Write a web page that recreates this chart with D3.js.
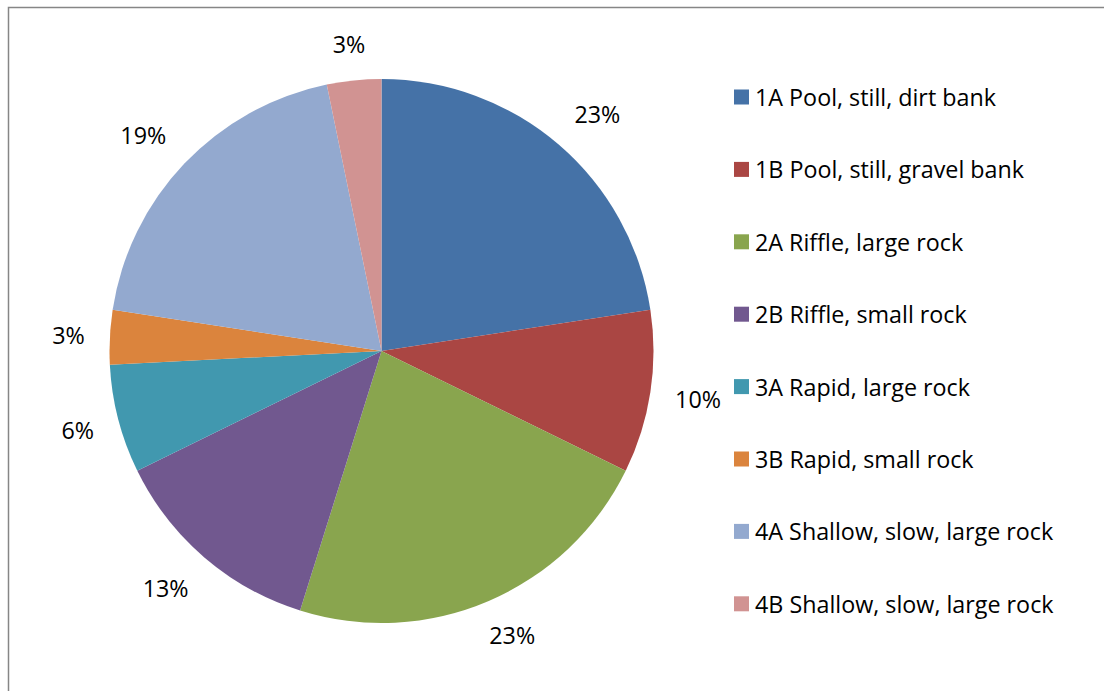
<!DOCTYPE html>
<html>
<head>
<meta charset="utf-8">
<script src="https://cdn.jsdelivr.net/npm/d3@7"></script>
<style>
  html, body { margin: 0; padding: 0; background: #fff; }
  svg { display: block; }
</style>
</head>
<body>
<svg id="chart" width="1104" height="691"></svg>
<script>
const categories = [
  "1A Pool, still, dirt bank",
  "1B Pool, still, gravel bank",
  "2A Riffle, large rock",
  "2B Riffle, small rock",
  "3A Rapid, large rock",
  "3B Rapid, small rock",
  "4A Shallow, slow, large rock",
  "4B Shallow, slow, large rock"
];
const values = [7, 3, 7, 4, 2, 1, 6, 1];
const colors = ["#4572A7", "#AA4643", "#89A54E", "#71588F", "#4198AF", "#DB843D", "#93A9CF", "#D19392"];

const svg = d3.select("#chart");
const W = 1104, H = 691;
const fontFamily = "'Open Sans', Lato, sans-serif";
const fontSize = 23.3;

// chart area border
svg.append("rect")
  .attr("x", 8.5).attr("y", 7.5)
  .attr("width", W + 20).attr("height", H + 20)
  .attr("fill", "#fff")
  .attr("stroke", "#868686")
  .attr("stroke-width", 1.5);

const cx = 381.5, cy = 351, r = 272, labelGap = 297;
const total = d3.sum(values);
const data = categories.map((c, i) => ({ cat: c, value: values[i], color: colors[i] }));

const pie = d3.pie().sort(null).value(d => d.value);
const arcs = pie(data);
const arc = d3.arc().innerRadius(0).outerRadius(r);

const g = svg.append("g").attr("transform", `translate(${cx},${cy})`);
g.selectAll("path.slice")
  .data(arcs)
  .join("path")
  .attr("class", "slice")
  .attr("d", arc)
  .attr("fill", d => d.data.color);

const fmt = d3.format(".0%");
const labels = g.selectAll("text.pct")
  .data(arcs)
  .join("text")
  .attr("class", "pct")
  .attr("text-anchor", "middle")
  .attr("dominant-baseline", "central")
  .attr("font-family", fontFamily)
  .attr("font-size", fontSize)
  .attr("fill", "#000")
  .text(d => fmt(d.data.value / total));

// place each label box just outside the pie edge (outside end)
const clamp = v => Math.max(-1, Math.min(1, v));
labels.each(function(d) {
  const bb = this.getBBox();
  const a = (d.startAngle + d.endAngle) / 2;
  const ux = Math.sin(a), uy = -Math.cos(a);
  const ox = clamp(ux * 1.5) * bb.width / 2;
  const oy = clamp(uy * 1.5) * bb.height * 0.35;
  d3.select(this).attr("transform", `translate(${ux * labelGap + ox},${uy * labelGap + oy})`);
});

// legend
const legendX = 734, legendY0 = 97, legendStep = 72.4, sw = 15;
const lg = svg.append("g");
const items = lg.selectAll("g.item")
  .data(data)
  .join("g")
  .attr("class", "item")
  .attr("transform", (d, i) => `translate(${legendX},${legendY0 + i * legendStep})`);
items.append("rect")
  .attr("x", 0).attr("y", -sw / 2)
  .attr("width", sw).attr("height", sw)
  .attr("fill", d => d.color);
items.append("text")
  .attr("x", 21)
  .attr("y", 0)
  .attr("dominant-baseline", "central")
  .attr("font-family", fontFamily)
  .attr("font-size", fontSize)
  .attr("fill", "#000")
  .text(d => d.cat);
</script>
</body>
</html>
